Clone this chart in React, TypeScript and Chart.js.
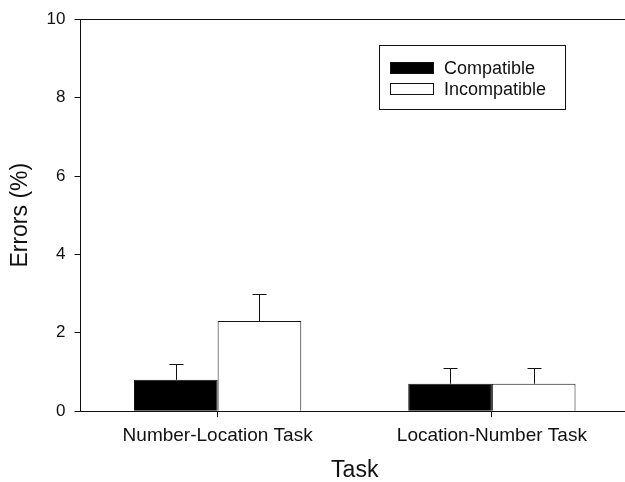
import React, { useEffect, useRef } from "react";
import { Chart, registerables } from "chart.js";

Chart.register(...registerables);

const tasks = ["Number-Location Task", "Location-Number Task"];
const compatible = [0.8, 0.7];
const compatibleErr = [0.4, 0.4];
const incompatible = [2.3, 0.7];
const incompatibleErr = [0.7, 0.4];
const seriesNames = ["Compatible", "Incompatible"];
const yTicks = [0, 2, 4, 6, 8, 10];

const FONT = "'Liberation Sans', Arial, sans-serif";
const INK = "#111";

// Upward-only error bars with a cap, drawn on top of each bar
const errorBars = {
  id: "errorBars",
  afterDatasetsDraw(chart: any) {
    const { ctx } = chart;
    const yScale = chart.scales.y;
    chart.data.datasets.forEach((ds: any, di: number) => {
      const meta = chart.getDatasetMeta(di);
      meta.data.forEach((bar: any, i: number) => {
        const v = ds.data[i];
        const e = ds.errors[i];
        const yTop = yScale.getPixelForValue(v + e);
        const yBar = yScale.getPixelForValue(v);
        const cx = Math.round(bar.x) + 0.5;
        const cy = Math.round(yTop) + 0.5;
        ctx.save();
        ctx.strokeStyle = INK;
        ctx.lineWidth = 1;
        ctx.beginPath();
        ctx.moveTo(cx, yBar);
        ctx.lineTo(cx, cy);
        ctx.moveTo(cx - 7, cy);
        ctx.lineTo(cx + 7, cy);
        ctx.stroke();
        ctx.restore();
      });
    });
  },
};

// Boxed legend in the upper right of the plot
const boxedLegend = {
  id: "boxedLegend",
  afterDraw(chart: any) {
    const { ctx, chartArea } = chart;
    const x0 = Math.round(chartArea.left + 298);
    const y0 = Math.round(chartArea.top + 26);
    const w = 186;
    const h = 64;
    ctx.save();
    ctx.strokeStyle = INK;
    ctx.lineWidth = 1;
    ctx.strokeRect(x0 + 0.5, y0 + 0.5, w, h);
    ctx.font = `18px ${FONT}`;
    ctx.textBaseline = "middle";
    chart.data.datasets.forEach((ds: any, i: number) => {
      const cy = Math.round(y0 + 22.5 + i * 21.5);
      ctx.fillStyle = ds.backgroundColor;
      ctx.fillRect(x0 + 11.5, cy - 5.5, 43, 11);
      ctx.strokeRect(x0 + 11.5, cy - 5.5, 43, 11);
      ctx.fillStyle = INK;
      ctx.fillText(ds.label, x0 + 65, cy + 1);
    });
    ctx.restore();
  },
};

export default function App() {
  const ref = useRef<HTMLCanvasElement>(null);

  useEffect(() => {
    if (!ref.current) return;
    const chart = new Chart(ref.current, {
      type: "bar",
      data: {
        labels: tasks,
        datasets: [
          {
            label: seriesNames[0],
            data: compatible,
            errors: compatibleErr,
            backgroundColor: "#000",
            borderColor: INK,
            borderWidth: 1,
          } as any,
          {
            label: seriesNames[1],
            data: incompatible,
            errors: incompatibleErr,
            backgroundColor: "#fff",
            borderColor: INK,
            borderWidth: 1,
          } as any,
        ],
      },
      options: {
        animation: false,
        responsive: false,
        maintainAspectRatio: false,
        layout: { padding: { top: 19, right: 0, left: 0, bottom: 0 } },
        datasets: { bar: { categoryPercentage: 0.61, barPercentage: 1 } },
        plugins: {
          legend: { display: false },
          tooltip: { enabled: false },
        },
        scales: {
          x: {
            offset: true,
            grid: {
              offset: false,
              drawOnChartArea: false,
              tickLength: 6,
              tickColor: INK,
            },
            border: { color: INK, width: 1 },
            ticks: {
              color: INK,
              font: { family: FONT, size: 19 },
              padding: 7,
              maxRotation: 0,
            },
            title: {
              display: true,
              text: "Task",
              color: INK,
              font: { family: FONT, size: 23, lineHeight: 1 },
              padding: { top: 5, bottom: 0 },
            },
          },
          y: {
            min: 0,
            max: 10,
            afterBuildTicks: (scale: any) => {
              scale.ticks = yTicks.map((v) => ({ value: v }));
            },
            grid: {
              color: (c: any) => (c.tick && c.tick.value === 10 ? INK : "transparent"),
              tickColor: INK,
              tickLength: 6,
            },
            border: { color: INK, width: 1 },
            ticks: {
              color: INK,
              font: { family: FONT, size: 17 },
              padding: 9,
            },
            title: {
              display: true,
              text: "Errors (%)",
              color: INK,
              font: { family: FONT, size: 23 },
              padding: { top: 7, bottom: 3 },
            },
          },
        },
      },
      plugins: [errorBars, boxedLegend],
    });
    return () => chart.destroy();
  }, []);

  // the plot runs a little past the right edge, so the axes stay open there
  return (
    <div
      style={{
        position: "fixed",
        left: 0,
        top: 0,
        width: 625,
        height: 482,
        overflow: "hidden",
        background: "#fff",
      }}
    >
      <canvas ref={ref} width={629} height={482} style={{ display: "block" }} />
    </div>
  );
}
